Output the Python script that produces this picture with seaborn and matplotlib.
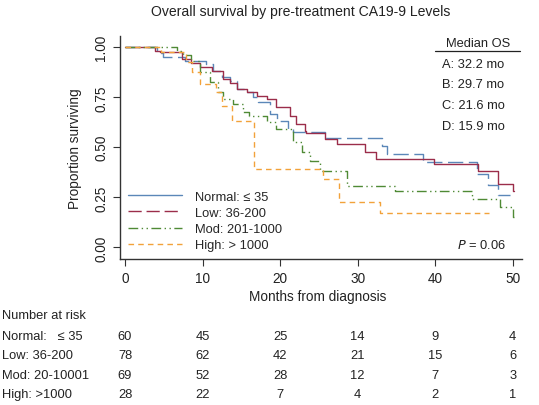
import matplotlib
matplotlib.use("Agg")
import matplotlib.pyplot as plt
import matplotlib.transforms as mtransforms
from matplotlib.lines import Line2D
import seaborn as sns

# Kaplan-Meier step curves (time in months, survival after step)
normal_t = [0, 4.1, 4.9, 7.7, 10.5, 11.4, 12.5, 13.5, 14.5, 15.5, 16.5, 17.2, 18.7, 19.6, 21.0, 21.7, 25.8, 33.1, 33.8, 38.4, 45.4, 46.8, 48.1, 49.6]
normal_s = [1.0, 0.97, 0.95, 0.933, 0.916, 0.883, 0.85, 0.83, 0.79, 0.775, 0.75, 0.725, 0.666, 0.633, 0.59, 0.575, 0.547, 0.508, 0.466, 0.425, 0.366, 0.31, 0.26, 0.26]

low_t = [0, 3.9, 4.5, 7.3, 8.5, 9.7, 11.2, 12.6, 13.5, 14.4, 15.7, 17.0, 18.3, 19.5, 21.3, 22.1, 23.2, 23.4, 25.8, 27.3, 30.9, 32.4, 39.8, 45.5, 48.1, 50.1, 50.15]
low_s = [1.0, 0.983, 0.975, 0.94, 0.92, 0.9, 0.883, 0.84, 0.82, 0.79, 0.775, 0.758, 0.74, 0.70, 0.658, 0.617, 0.583, 0.572, 0.54, 0.516, 0.475, 0.44, 0.416, 0.383, 0.316, 0.28, 0.28]

mod_t = [0, 6.7, 7.5, 8.5, 9.7, 10.9, 12.0, 12.6, 13.9, 15.2, 16.0, 18.3, 19.5, 21.6, 22.8, 23.8, 25.1, 28.6, 34.8, 44.7, 48.3, 50.1, 50.15]
mod_s = [1.0, 0.983, 0.96, 0.933, 0.875, 0.825, 0.775, 0.74, 0.717, 0.675, 0.658, 0.625, 0.59, 0.525, 0.475, 0.433, 0.383, 0.306, 0.28, 0.24, 0.2, 0.15, 0.15]

high_t = [0, 4.7, 7.9, 8.6, 9.7, 11.7, 12.5, 13.8, 16.6, 25.5, 27.6, 32.9, 47.0]
high_s = [1.0, 0.975, 0.925, 0.875, 0.816, 0.775, 0.708, 0.633, 0.39, 0.34, 0.225, 0.17, 0.17]

groups = ["Normal: \u2264 35", "Low: 36-200", "Mod: 201-1000", "High: > 1000"]
risk_labels = ["Normal:   \u2264 35", "Low: 36-200", "Mod: 20-10001", "High: >1000"]
risk_times = [0, 10, 20, 30, 40, 50]
risk_normal = [60, 45, 25, 14, 9, 4]
risk_low = [78, 62, 42, 21, 15, 6]
risk_mod = [69, 52, 28, 12, 7, 3]
risk_high = [28, 22, 7, 4, 2, 1]
medians = ["A: 32.2 mo", "B: 29.7 mo", "C: 21.6 mo", "D: 15.9 mo"]

sns.set_style("white")
plt.rcParams['font.family'] = ['Liberation Sans', 'DejaVu Sans']
plt.rcParams['lines.scale_dashes'] = False

blue = "#5b87b8"
red = "#9b2d4a"
green = "#4f8a35"
orange = "#f2a23a"
dash_long = (0, (11, 4))
dash_red = (0, (9.5, 3.5))
dash_dot = (0, (7, 2.5, 1, 2.5, 1, 2.5))
dash_short = (0, (4, 3))

fig = plt.figure(figsize=(5.39, 4.06), dpi=100)
ax = fig.add_axes([120/539, 1-260/406, 402/539, 223/406])

lw = 1.0
sns.lineplot(x=normal_t, y=normal_s, ax=ax, drawstyle='steps-post', sort=False,
             estimator=None, color=blue, linewidth=lw, linestyle=dash_long)
sns.lineplot(x=low_t, y=low_s, ax=ax, drawstyle='steps-post', sort=False,
             estimator=None, color=red, linewidth=lw, linestyle='-')
sns.lineplot(x=mod_t, y=mod_s, ax=ax, drawstyle='steps-post', sort=False,
             estimator=None, color=green, linewidth=lw, linestyle=dash_dot)
sns.lineplot(x=high_t, y=high_s, ax=ax, drawstyle='steps-post', sort=False,
             estimator=None, color=orange, linewidth=lw, linestyle=dash_short)

ax.set_xlim(-0.65, 51.2)
ax.set_ylim(-0.058, 1.056)
ax.set_xticks(risk_times)
ax.set_yticks([0, 0.25, 0.5, 0.75, 1.0])
ax.set_yticklabels(["0.00", "0.25", "0.50", "0.75", "1.00"], rotation=90, va='center')
ax.tick_params(axis='both', direction='out', length=5, width=0.8, color='#333333',
               labelsize=9.8, labelcolor='#222222', left=True, bottom=True)
sns.despine(ax=ax)
for s in ['left', 'bottom']:
    ax.spines[s].set_color('#333333')
    ax.spines[s].set_linewidth(1.0)

ax.set_xlabel("Months from diagnosis", fontsize=9.8, color='#222222')
ax.xaxis.set_label_coords(0.4925, -0.135)
ax.set_ylabel("Proportion surviving", fontsize=9.8, color='#222222')
ax.yaxis.set_label_coords(-0.094, 0.5)

fig.text(301/539, 1-12/406, "Overall survival by pre-treatment CA19-9 Levels",
         ha='center', va='center', fontsize=10.1, color='#222222')

# legend (line styles as drawn in the original key)
handles = [
    Line2D([], [], color=blue, lw=lw, linestyle='-'),
    Line2D([], [], color=red, lw=lw, linestyle=dash_red),
    Line2D([], [], color=green, lw=lw, linestyle=dash_dot),
    Line2D([], [], color=orange, lw=lw, linestyle=dash_short),
]
ax.legend(handles, groups, loc='lower left', bbox_to_anchor=(0.0, 0.0),
          frameon=False, fontsize=9.3, handlelength=4.2, handletextpad=1.0,
          labelspacing=0.32, borderaxespad=0.2)

# median OS block
fig.text(478/539, 1-44/406, "Median OS", ha='center', va='center', fontsize=9.3, color='#222222')
fig.add_artist(Line2D([435/539, 520/539], [1-52/406, 1-52/406], color='#222222', lw=0.9))
for i, m in enumerate(medians):
    fig.text(442/539, 1-(64.5 + 20.8*i)/406, m, ha='left', va='center', fontsize=9.3, color='#222222')
fig.text(457/539, 1-246/406, "$P$ = 0.06", ha='left', va='center', fontsize=9.3, color='#222222')

# number at risk table
tr = mtransforms.blended_transform_factory(ax.transData, fig.transFigure)
fig.text(2/539, 1-316/406, "Number at risk", ha='left', va='center', fontsize=9.3, color='#222222')
rows = [risk_normal, risk_low, risk_mod, risk_high]
row_y = [337, 356.5, 376, 395]
for lab, vals, yy in zip(risk_labels, rows, row_y):
    fig.text(2/539, 1-yy/406, lab, ha='left', va='center', fontsize=9.3, color='#222222')
    for t, v in zip(risk_times, vals):
        ax.text(t, 1-yy/406, str(v), transform=tr, ha='center', va='center',
                fontsize=9.3, color='#222222', clip_on=False)

fig.savefig("out.png", dpi=100)
